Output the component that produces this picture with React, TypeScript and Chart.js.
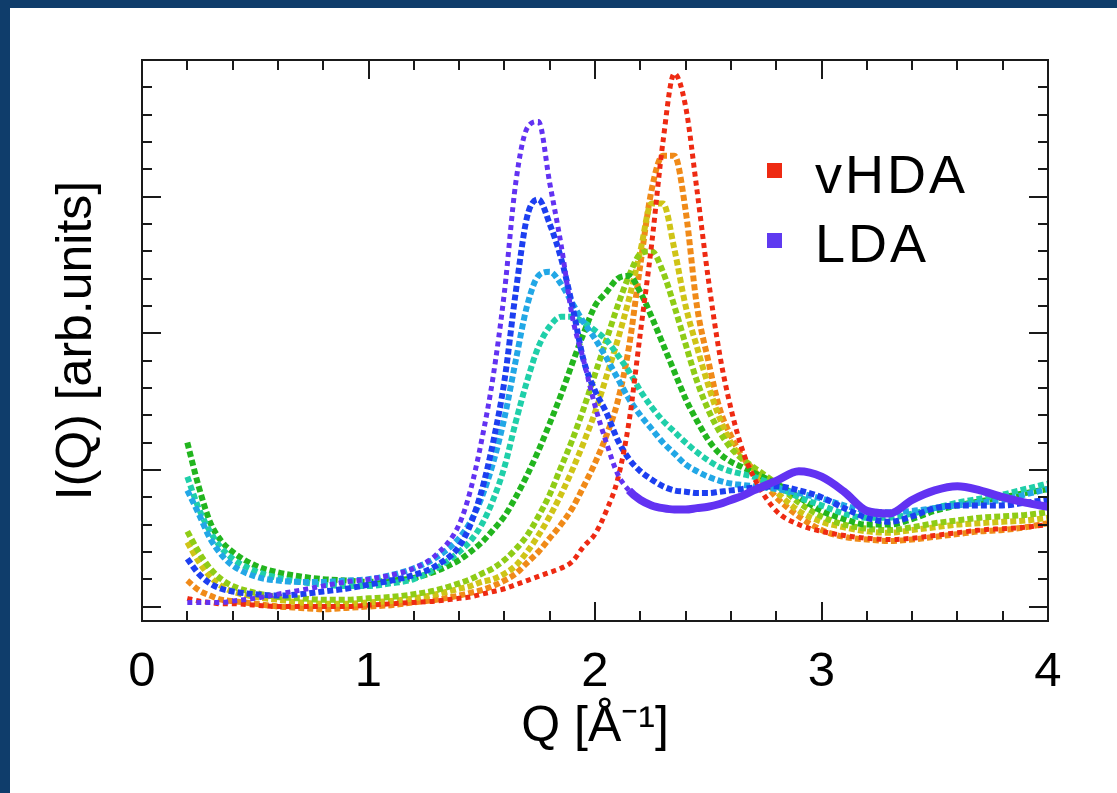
import React, { useEffect, useRef } from "react";
import { Chart, registerables } from "chart.js";

Chart.register(...registerables);

// Scattering vector Q [1/Å] (shared sampling for all curves)
const Q = [
  0.2, 0.25, 0.3, 0.35, 0.4,
  0.5, 0.6, 0.7, 0.8, 0.9, 1.0, 1.1, 1.2, 1.3, 1.4,
  1.45, 1.5, 1.55, 1.6, 1.65, 1.7, 1.75, 1.8, 1.85, 1.9, 1.95, 2.0, 2.05, 2.1, 2.15, 2.2, 2.25, 2.3, 2.35, 2.4, 2.45, 2.5, 2.55, 2.6, 2.65, 2.7,
  2.8, 2.9, 3.0, 3.1, 3.2, 3.3, 3.4, 3.5, 3.6, 3.7, 3.8, 3.9, 4.0,
];

// I(Q) for each stage (arb. units), from vHDA (red) to LDA (purple)
const vHDA = [
  0.06, 0.04, 0.03, 0.02, 0.02,
  0.01, 0.0, 0.0, 0.0, 0.0, 0.01, 0.02, 0.03, 0.04, 0.06,
  0.07, 0.09, 0.11, 0.13, 0.16, 0.19, 0.22, 0.25, 0.28, 0.33, 0.44, 0.53, 0.7, 0.93, 1.35, 2.0, 2.65, 3.4, 3.9, 3.66, 3.05, 2.4, 1.85, 1.45, 1.15, 0.95,
  0.7, 0.6, 0.55, 0.52, 0.5, 0.49, 0.5, 0.52, 0.54, 0.56, 0.57, 0.58, 0.6,
];
const orangeS = [
  0.19, 0.12, 0.08, 0.05, 0.04,
  0.02, 0.0, -0.01, -0.02, -0.01, 0.0, 0.01, 0.03, 0.05, 0.08,
  0.1, 0.12, 0.15, 0.19, 0.24, 0.32, 0.4, 0.5, 0.6, 0.72, 0.88, 1.05, 1.25, 1.5, 1.9, 2.5, 3.05, 3.3, 3.3, 2.9, 2.2, 1.8, 1.45, 1.25, 1.1, 1.0,
  0.8, 0.66, 0.56, 0.51, 0.49, 0.48, 0.49, 0.51, 0.53, 0.55, 0.56, 0.58, 0.61,
];
const yellowS = [
  0.47, 0.33, 0.22, 0.15, 0.11,
  0.07, 0.05, 0.03, 0.02, 0.02, 0.03, 0.04, 0.06, 0.09, 0.13,
  0.15, 0.18, 0.2, 0.24, 0.3, 0.4, 0.52, 0.66, 0.82, 1.0, 1.2, 1.42, 1.68, 1.95, 2.25, 2.6, 2.95, 2.95, 2.62, 2.2, 1.9, 1.62, 1.38, 1.2, 1.08, 1.0,
  0.84, 0.7, 0.62, 0.58, 0.55, 0.54, 0.56, 0.58, 0.6, 0.61, 0.62, 0.63, 0.65,
];
const limeS = [
  0.55, 0.4, 0.28, 0.2, 0.15,
  0.1, 0.07, 0.06, 0.05, 0.05, 0.06, 0.07, 0.09, 0.12, 0.17,
  0.2, 0.24, 0.28, 0.34, 0.42, 0.52, 0.66, 0.82, 1.02, 1.22, 1.45, 1.7, 1.95, 2.2, 2.42, 2.58, 2.6, 2.45, 2.2, 1.92, 1.65, 1.44, 1.28, 1.16, 1.08, 1.02,
  0.9, 0.76, 0.66, 0.6, 0.57, 0.56, 0.58, 0.61, 0.63, 0.65, 0.66, 0.67, 0.69,
];
const greenS = [
  1.2, 0.88, 0.62, 0.48, 0.4,
  0.3, 0.25, 0.22, 0.2, 0.19, 0.18, 0.19, 0.21, 0.26, 0.34,
  0.4, 0.47, 0.56, 0.66, 0.8, 0.96, 1.14, 1.34, 1.55, 1.78, 2.0, 2.2, 2.3, 2.4, 2.42, 2.3, 2.12, 1.92, 1.72, 1.52, 1.36, 1.22, 1.12, 1.06, 1.02, 0.98,
  0.9, 0.8, 0.7, 0.64, 0.6, 0.6, 0.64, 0.7, 0.74, 0.77, 0.8, 0.83, 0.86,
];
const tealS = [
  0.95, 0.72, 0.55, 0.43, 0.35,
  0.26, 0.21, 0.18, 0.16, 0.15, 0.15, 0.17, 0.2, 0.28, 0.4,
  0.48, 0.6, 0.78, 1.02, 1.35, 1.65, 1.9, 2.05, 2.12, 2.12, 2.08, 2.02, 1.95, 1.84, 1.72, 1.58, 1.46, 1.36, 1.28, 1.2, 1.13, 1.07, 1.02, 0.99, 0.97, 0.95,
  0.88, 0.8, 0.74, 0.68, 0.65, 0.65, 0.68, 0.72, 0.76, 0.79, 0.82, 0.86, 0.9,
];
const skyS = [
  0.85, 0.68, 0.5, 0.38, 0.3,
  0.22, 0.19, 0.18, 0.18, 0.19, 0.2, 0.23, 0.28, 0.36, 0.5,
  0.62, 0.8, 1.05, 1.38, 1.8, 2.2, 2.42, 2.45, 2.36, 2.22, 2.08, 1.96, 1.82, 1.67, 1.52, 1.4, 1.3, 1.2, 1.12, 1.04, 0.99, 0.95, 0.92, 0.9, 0.89, 0.88,
  0.86, 0.83, 0.79, 0.74, 0.7, 0.69, 0.7, 0.72, 0.74, 0.76, 0.78, 0.82, 0.86,
];
const blueS = [
  0.35, 0.24, 0.17, 0.13, 0.11,
  0.09, 0.08, 0.09, 0.11, 0.13, 0.16, 0.19, 0.23, 0.3, 0.44,
  0.6, 0.85, 1.2, 1.65, 2.3, 2.85, 2.98, 2.8, 2.55, 2.2, 1.8, 1.58, 1.42, 1.22, 1.08, 0.99, 0.93, 0.88, 0.85, 0.84, 0.83, 0.83, 0.84, 0.85, 0.86, 0.87,
  0.88, 0.85, 0.8, 0.72, 0.65, 0.62, 0.66, 0.72, 0.74, 0.74, 0.74, 0.76, 0.78,
];
const LDA = [
  0.03, 0.03, 0.03, 0.03, 0.04,
  0.06, 0.09, 0.12, 0.15, 0.18, 0.2, 0.23, 0.28, 0.38, 0.6,
  0.85, 1.22, 1.68, 2.3, 3.1, 3.5, 3.55, 3.1, 2.65, 2.12, 1.8, 1.47, 1.2, 0.97, 0.85, 0.78, 0.74, 0.72, 0.71, 0.71, 0.72, 0.73, 0.75, 0.78, 0.81, 0.85,
  0.92, 0.99, 0.95, 0.84, 0.7, 0.68, 0.78, 0.85, 0.88, 0.85, 0.8, 0.76, 0.73,
];

const X_TICKS = [0, 1, 2, 3, 4];
const LEGEND_LABELS = ["vHDA", "LDA"];

const BLUE_FRAME = "#0f3d6b";
const FONT = '"Liberation Sans", Arial, Helvetica, sans-serif';

function pts(vals: number[]) {
  return vals.map((v, i) => ({ x: Q[i], y: v }));
}

const frameTicks = {
  id: "frameTicks",
  afterDatasetsDraw(chart: any) {
    const { ctx, chartArea: a, scales } = chart;
    const x = scales.x;
    const y = scales.y;
    ctx.save();
    ctx.strokeStyle = "#1a1a1a";
    ctx.lineWidth = 2;
    ctx.beginPath();
    for (let i = 0; i <= 20; i++) {
      const v = i * 0.2;
      const major = i % 5 === 0;
      const len = major ? 19 : 10;
      const px = Math.round(x.getPixelForValue(v));
      ctx.moveTo(px, a.bottom);
      ctx.lineTo(px, a.bottom - len);
      ctx.moveTo(px, a.top);
      ctx.lineTo(px, a.top + len);
      const py = Math.round(y.getPixelForValue(v));
      ctx.moveTo(a.left, py);
      ctx.lineTo(a.left + len, py);
      ctx.moveTo(a.right, py);
      ctx.lineTo(a.right - len, py);
    }
    ctx.stroke();
    ctx.strokeRect(a.left, a.top, a.right - a.left, a.bottom - a.top);
    ctx.restore();
  },
};

const squareLegend = {
  id: "squareLegend",
  afterDraw(chart: any) {
    const { ctx } = chart;
    const items = LEGEND_LABELS.map((lab) =>
      chart.data.datasets.find((d: any) => d.label === lab)
    );
    const rows = [
      { sq: 163, base: 193 },
      { sq: 233, base: 262 },
    ];
    ctx.save();
    ctx.font = `54px ${FONT}`;
    (ctx as any).letterSpacing = "3px";
    ctx.textBaseline = "alphabetic";
    ctx.textAlign = "left";
    items.forEach((d: any, i: number) => {
      if (!d) return;
      ctx.fillStyle = d.legendColor || d.borderColor;
      ctx.fillRect(767, rows[i].sq, 15, 15);
      ctx.fillStyle = "#000";
      ctx.fillText(d.label, 815, rows[i].base);
    });
    ctx.restore();
  },
};

export default function App() {
  const ref = useRef<HTMLCanvasElement>(null);

  useEffect(() => {
    if (!ref.current) return;
    const mk = (label: string, vals: number[], color: string, w: number, dash: number[]) => ({
      label,
      data: pts(vals),
      borderColor: color,
      backgroundColor: color,
      borderWidth: w,
      borderDash: dash,
      pointRadius: 0,
      cubicInterpolationMode: "monotone" as const,
      fill: false,
    });
    const ldaSet: any = mk("LDA", LDA, "#6232f2", 5, [5, 4]);
    ldaSet.segment = {
      borderDash: (c: any) => (c.p0.parsed.x >= 2.15 ? [] : undefined),
      borderWidth: (c: any) => (c.p0.parsed.x >= 2.15 ? 8 : undefined),
    };
    ldaSet.legendColor = "#5f3af0";
    const hdaSet: any = mk("vHDA", vHDA, "#ee2a12", 5, [5, 4]);
    hdaSet.legendColor = "#ee2a12";

    const chart = new Chart(ref.current, {
      type: "line",
      data: {
        datasets: [
          ldaSet,
          hdaSet,
          mk("s8", blueS, "#1d3ff0", 6, [6, 3]),
          mk("s7", skyS, "#22a7e6", 6, [6, 3]),
          mk("s6", tealS, "#1fcfa9", 6, [6, 3]),
          mk("s5", greenS, "#22b51e", 6, [6, 3]),
          mk("s4", limeS, "#8fcc16", 6, [6, 3]),
          mk("s3", yellowS, "#cfc417", 6, [6, 3]),
          mk("s2", orangeS, "#f08a18", 6, [6, 3]),
        ],
      },
      options: {
        responsive: false,
        animation: false,
        devicePixelRatio: 1,
        layout: { padding: { left: 10, top: 60, right: 69, bottom: 0 } },
        plugins: {
          legend: { display: false },
          tooltip: { enabled: false },
        },
        scales: {
          x: {
            type: "linear",
            position: "bottom",
            min: 0,
            max: 4,
            grid: { display: false },
            border: { display: false },
            afterBuildTicks: (s: any) => {
              s.ticks = X_TICKS.map((v) => ({ value: v }));
            },
            ticks: {
              color: "#000",
              font: { family: FONT, size: 49 },
              padding: 14,
              maxRotation: 0,
              autoSkip: false,
            },
            title: {
              display: true,
              text: "Q [Å⁻¹]",
              color: "#000",
              font: { family: FONT, size: 50 },
              padding: { top: 0, bottom: 36 },
            },
            afterFit: (s: any) => {
              s.height = 172;
            },
          },
          y: {
            type: "linear",
            min: -0.106,
            max: 4.0,
            grid: { display: false },
            border: { display: false },
            ticks: { display: false },
            title: {
              display: true,
              text: "I(Q) [arb.units]",
              color: "#000",
              font: { family: FONT, size: 50 },
              padding: { top: 37.5, bottom: 0 },
            },
            afterFit: (s: any) => {
              s.width = 132;
            },
          },
        },
      },
      plugins: [frameTicks, squareLegend],
    });
    return () => chart.destroy();
  }, []);

  return (
    <div
      style={{
        position: "fixed",
        left: 0,
        top: 0,
        width: 1117,
        height: 793,
        background: "#fff",
        overflow: "hidden",
      }}
    >
      <canvas ref={ref} width={1117} height={793} style={{ position: "absolute", left: 0, top: 0 }} />
      <div style={{ position: "absolute", left: 0, top: 0, width: 1117, height: 8, background: BLUE_FRAME }} />
      <div style={{ position: "absolute", left: 0, top: 0, width: 10, height: 793, background: BLUE_FRAME }} />
    </div>
  );
}
